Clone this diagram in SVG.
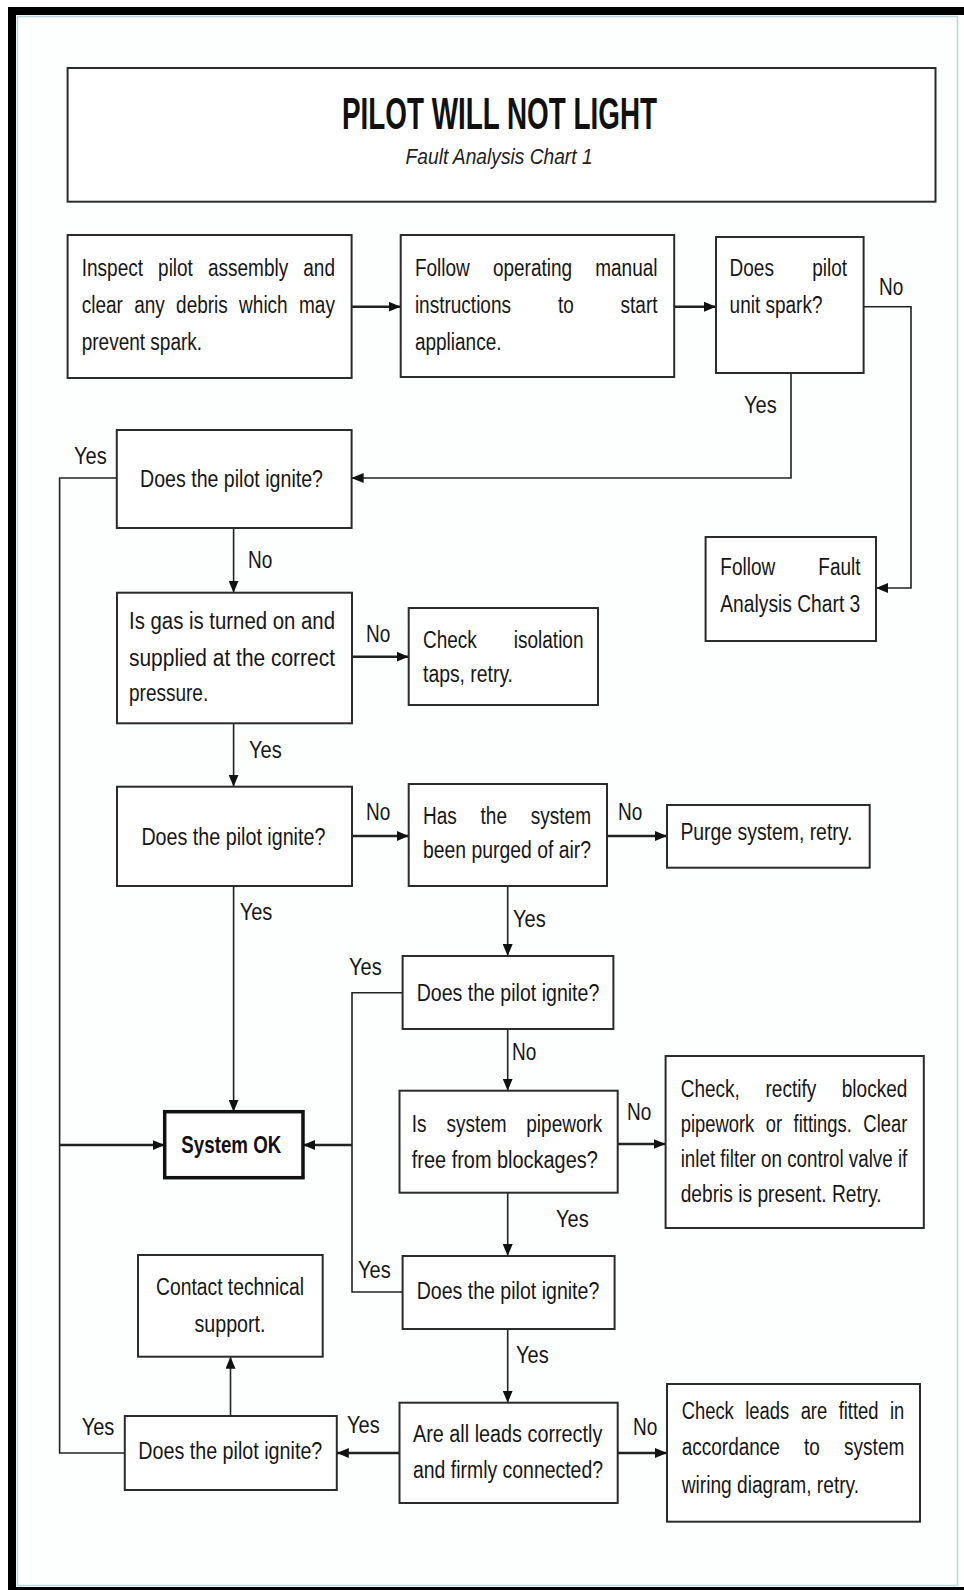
<svg xmlns="http://www.w3.org/2000/svg" width="964" height="1590" viewBox="0 0 964 1590">
<defs>
<style>
.b{fill:#fff;stroke:#2b2b2b;stroke-width:2}
.t{font-family:"Liberation Sans",Arial,sans-serif;font-size:23px;fill:#161616}
.c{fill:none;stroke:#222;stroke-width:1.6}
.ch{fill:none;stroke:#222;stroke-width:2.4}
</style>
<marker id="ah" markerUnits="userSpaceOnUse" markerWidth="12" markerHeight="10" refX="12" refY="5" orient="auto"><path d="M0,0 L12,5 L0,10 z" fill="#111"/></marker>
</defs>
<rect width="964" height="1590" fill="#fff"/>
<rect x="8" y="7" width="956" height="1583" fill="#000"/>
<rect x="16" y="15" width="948" height="1572" fill="#fdfefe"/>
<rect x="17.5" y="16.5" width="940" height="1569" fill="none" stroke="#bcd5df" stroke-width="1.5"/>

<g id="title">
<rect class="b" x="67.6" y="68" width="867.9" height="133.7"/>
<text x="342" y="129" font-family="'Liberation Sans',Arial,sans-serif" font-size="44" font-weight="bold" fill="#111" textLength="315" lengthAdjust="spacingAndGlyphs">PILOT WILL NOT LIGHT</text>
<text x="405.6" y="164" font-family="'Liberation Sans',Arial,sans-serif" font-size="22" font-style="italic" fill="#222" textLength="187" lengthAdjust="spacingAndGlyphs">Fault Analysis Chart 1</text>
</g>

<g id="connectors">
<line class="ch" x1="351.6" y1="306.7" x2="400.7" y2="306.7" marker-end="url(#ah)"/>
<line class="ch" x1="674.2" y1="306.7" x2="716" y2="306.7" marker-end="url(#ah)"/>
<polyline class="c" points="863.6,306.7 911,306.7 911,588 876,588" marker-end="url(#ah)"/>
<polyline class="c" points="791,373 791,478 351.6,478" marker-end="url(#ah)"/>
<polyline class="c" points="116.8,478 59.6,478 59.6,1453 124.8,1453"/>
<line class="ch" x1="59.6" y1="1145" x2="164.7" y2="1145" marker-end="url(#ah)"/>
<line class="c" x1="233.6" y1="528" x2="233.6" y2="592.7" marker-end="url(#ah)"/>
<line class="ch" x1="352" y1="656.7" x2="408.7" y2="656.7" marker-end="url(#ah)"/>
<line class="c" x1="233.6" y1="723.3" x2="233.6" y2="786.7" marker-end="url(#ah)"/>
<line class="ch" x1="352" y1="836" x2="408.7" y2="836" marker-end="url(#ah)"/>
<line class="ch" x1="607" y1="836" x2="667" y2="836" marker-end="url(#ah)"/>
<line class="c" x1="233.6" y1="886" x2="233.6" y2="1111.7" marker-end="url(#ah)"/>
<line class="c" x1="507.7" y1="886" x2="507.7" y2="956" marker-end="url(#ah)"/>
<polyline class="c" points="402.6,992.7 352,992.7 352,1292 402.6,1292"/>
<line class="ch" x1="352" y1="1145" x2="303" y2="1145" marker-end="url(#ah)"/>
<line class="c" x1="507.7" y1="1029" x2="507.7" y2="1090.7" marker-end="url(#ah)"/>
<line class="ch" x1="617.7" y1="1144" x2="665.6" y2="1144" marker-end="url(#ah)"/>
<line class="c" x1="507.7" y1="1192.7" x2="507.7" y2="1256" marker-end="url(#ah)"/>
<line class="c" x1="507.7" y1="1329" x2="507.7" y2="1402.7" marker-end="url(#ah)"/>
<line class="ch" x1="617.7" y1="1453" x2="667" y2="1453" marker-end="url(#ah)"/>
<line class="ch" x1="399.5" y1="1453" x2="336.8" y2="1453" marker-end="url(#ah)"/>
<line class="c" x1="230.5" y1="1416" x2="230.5" y2="1356.7" marker-end="url(#ah)"/>
<g class="t">
<text x="879" y="295" textLength="24.3" lengthAdjust="spacingAndGlyphs">No</text>
<text x="744" y="413" textLength="32.7" lengthAdjust="spacingAndGlyphs">Yes</text>
<text x="74" y="464" textLength="32.7" lengthAdjust="spacingAndGlyphs">Yes</text>
<text x="248" y="568" textLength="24.3" lengthAdjust="spacingAndGlyphs">No</text>
<text x="366" y="641.7" textLength="24.3" lengthAdjust="spacingAndGlyphs">No</text>
<text x="249" y="758" textLength="32.7" lengthAdjust="spacingAndGlyphs">Yes</text>
<text x="366" y="820" textLength="24.3" lengthAdjust="spacingAndGlyphs">No</text>
<text x="618" y="820" textLength="24.3" lengthAdjust="spacingAndGlyphs">No</text>
<text x="239.7" y="920" textLength="32.7" lengthAdjust="spacingAndGlyphs">Yes</text>
<text x="513" y="926.7" textLength="32.7" lengthAdjust="spacingAndGlyphs">Yes</text>
<text x="349" y="975" textLength="32.7" lengthAdjust="spacingAndGlyphs">Yes</text>
<text x="512" y="1060" textLength="24.3" lengthAdjust="spacingAndGlyphs">No</text>
<text x="627" y="1120" textLength="24.3" lengthAdjust="spacingAndGlyphs">No</text>
<text x="556" y="1226.7" textLength="32.7" lengthAdjust="spacingAndGlyphs">Yes</text>
<text x="358" y="1278" textLength="32.7" lengthAdjust="spacingAndGlyphs">Yes</text>
<text x="516" y="1363" textLength="32.7" lengthAdjust="spacingAndGlyphs">Yes</text>
<text x="633" y="1435" textLength="24.3" lengthAdjust="spacingAndGlyphs">No</text>
<text x="347" y="1433" textLength="32.7" lengthAdjust="spacingAndGlyphs">Yes</text>
<text x="81.7" y="1435" textLength="32.7" lengthAdjust="spacingAndGlyphs">Yes</text>
</g>
</g>

<g id="inspect" class="t">
<rect class="b" x="67.6" y="235" width="284" height="143"/>
<text x="81.7" y="276" textLength="61.3" lengthAdjust="spacingAndGlyphs">Inspect</text>
<text x="158.1" y="276" textLength="34.8" lengthAdjust="spacingAndGlyphs">pilot</text>
<text x="208" y="276" textLength="80.2" lengthAdjust="spacingAndGlyphs">assembly</text>
<text x="303.3" y="276" textLength="31.7" lengthAdjust="spacingAndGlyphs">and</text>
<text x="81.7" y="312.7" textLength="41.2" lengthAdjust="spacingAndGlyphs">clear</text>
<text x="134.2" y="312.7" textLength="30.6" lengthAdjust="spacingAndGlyphs">any</text>
<text x="176.1" y="312.7" textLength="51.7" lengthAdjust="spacingAndGlyphs">debris</text>
<text x="239.1" y="312.7" textLength="48.6" lengthAdjust="spacingAndGlyphs">which</text>
<text x="299" y="312.7" textLength="35.9" lengthAdjust="spacingAndGlyphs">may</text>
<text x="81.7" y="349.5" textLength="120.4" lengthAdjust="spacingAndGlyphs">prevent spark.</text>
</g>

<g id="follow" class="t">
<rect class="b" x="400.7" y="235" width="273.5" height="142"/>
<text x="414.9" y="276" textLength="54.9" lengthAdjust="spacingAndGlyphs">Follow</text>
<text x="492.9" y="276" textLength="79.2" lengthAdjust="spacingAndGlyphs">operating</text>
<text x="595.2" y="276" textLength="62.3" lengthAdjust="spacingAndGlyphs">manual</text>
<text x="414.9" y="312.7" textLength="96.1" lengthAdjust="spacingAndGlyphs">instructions</text>
<text x="557.9" y="312.7" textLength="15.8" lengthAdjust="spacingAndGlyphs">to</text>
<text x="620.5" y="312.7" textLength="37" lengthAdjust="spacingAndGlyphs">start</text>
<text x="414.9" y="349.5" textLength="86.6" lengthAdjust="spacingAndGlyphs">appliance.</text>
</g>

<g id="spark" class="t">
<rect class="b" x="716" y="237" width="147.6" height="136"/>
<text x="729.6" y="276" textLength="44.3" lengthAdjust="spacingAndGlyphs">Does</text>
<text x="812.2" y="276" textLength="34.8" lengthAdjust="spacingAndGlyphs">pilot</text>
<text x="729.6" y="312.7" textLength="92.9" lengthAdjust="spacingAndGlyphs">unit spark?</text>
</g>

<g id="ignite1" class="t">
<rect class="b" x="116.8" y="430" width="234.8" height="98"/>
<text x="140" y="487" textLength="183" lengthAdjust="spacingAndGlyphs">Does the pilot ignite?</text>
</g>

<g id="gas" class="t">
<rect class="b" x="117" y="592.7" width="235" height="130.6"/>
<text x="129" y="629.3" textLength="206" lengthAdjust="spacingAndGlyphs">Is gas is turned on and</text>
<text x="129" y="666" textLength="206" lengthAdjust="spacingAndGlyphs">supplied at the correct</text>
<text x="129" y="701" textLength="79.2" lengthAdjust="spacingAndGlyphs">pressure.</text>
</g>

<g id="isolation" class="t">
<rect class="b" x="408.7" y="608" width="189.3" height="97"/>
<text x="423" y="648.3" textLength="53.8" lengthAdjust="spacingAndGlyphs">Check</text>
<text x="513.8" y="648.3" textLength="69.7" lengthAdjust="spacingAndGlyphs">isolation</text>
<text x="423" y="681.7" textLength="90" lengthAdjust="spacingAndGlyphs">taps, retry.</text>
</g>

<g id="chart3" class="t">
<rect class="b" x="705.6" y="537" width="170.4" height="104"/>
<text x="720.3" y="575" textLength="54.9" lengthAdjust="spacingAndGlyphs">Follow</text>
<text x="818.3" y="575" textLength="42.2" lengthAdjust="spacingAndGlyphs">Fault</text>
<text x="720.3" y="611.7" textLength="140" lengthAdjust="spacingAndGlyphs">Analysis Chart 3</text>
</g>

<g id="ignite2" class="t">
<rect class="b" x="117" y="786.7" width="235" height="99.3"/>
<text x="141.4" y="844.5" textLength="184" lengthAdjust="spacingAndGlyphs">Does the pilot ignite?</text>
</g>

<g id="purged" class="t">
<rect class="b" x="408.7" y="784" width="198.3" height="102"/>
<text x="423" y="824" textLength="33.8" lengthAdjust="spacingAndGlyphs">Has</text>
<text x="480.6" y="824" textLength="26.4" lengthAdjust="spacingAndGlyphs">the</text>
<text x="530.8" y="824" textLength="60.2" lengthAdjust="spacingAndGlyphs">system</text>
<text x="423" y="858.3" textLength="168" lengthAdjust="spacingAndGlyphs">been purged of air?</text>
</g>

<g id="purge" class="t">
<rect class="b" x="667" y="805" width="202.7" height="62.7"/>
<text x="680.4" y="840" textLength="172" lengthAdjust="spacingAndGlyphs">Purge system, retry.</text>
</g>

<g id="ignite3" class="t">
<rect class="b" x="402.6" y="956" width="210.8" height="73"/>
<text x="416.7" y="1000.5" textLength="182.6" lengthAdjust="spacingAndGlyphs">Does the pilot ignite?</text>
</g>

<g id="systemok">
<rect x="164.7" y="1111.7" width="138.3" height="66" fill="#fff" stroke="#111" stroke-width="3.5"/>
<text x="181.3" y="1153.3" font-family="'Liberation Sans',Arial,sans-serif" font-size="23" font-weight="bold" fill="#111" textLength="100" lengthAdjust="spacingAndGlyphs">System OK</text>
</g>

<g id="pipework" class="t">
<rect class="b" x="399.5" y="1090.7" width="218.2" height="102"/>
<text x="411.8" y="1131.7" textLength="14.8" lengthAdjust="spacingAndGlyphs">Is</text>
<text x="446.4" y="1131.7" textLength="60.2" lengthAdjust="spacingAndGlyphs">system</text>
<text x="526.3" y="1131.7" textLength="76" lengthAdjust="spacingAndGlyphs">pipework</text>
<text x="411.8" y="1168.3" textLength="186" lengthAdjust="spacingAndGlyphs">free from blockages?</text>
</g>

<g id="rectify" class="t">
<rect class="b" x="665.6" y="1056" width="258.2" height="172"/>
<text x="680.7" y="1096.7" textLength="59.1" lengthAdjust="spacingAndGlyphs">Check,</text>
<text x="765.5" y="1096.7" textLength="50.7" lengthAdjust="spacingAndGlyphs">rectify</text>
<text x="841.8" y="1096.7" textLength="65.5" lengthAdjust="spacingAndGlyphs">blocked</text>
<text x="680.7" y="1131.7" textLength="226.6" lengthAdjust="spacingAndGlyphs" word-spacing="8">pipework or fittings. Clear</text>
<text x="680.7" y="1166.7" textLength="226.6" lengthAdjust="spacingAndGlyphs">inlet filter on control valve if</text>
<text x="680.7" y="1201.7" textLength="201" lengthAdjust="spacingAndGlyphs">debris is present. Retry.</text>
</g>

<g id="ignite4" class="t">
<rect class="b" x="402.6" y="1256" width="212" height="73"/>
<text x="416.7" y="1299" textLength="182.6" lengthAdjust="spacingAndGlyphs">Does the pilot ignite?</text>
</g>

<g id="support" class="t">
<rect class="b" x="138" y="1255" width="184.7" height="101.7"/>
<text x="156" y="1295" textLength="148" lengthAdjust="spacingAndGlyphs">Contact technical</text>
<text x="194.5" y="1331.7" textLength="71" lengthAdjust="spacingAndGlyphs">support.</text>
</g>

<g id="leads" class="t">
<rect class="b" x="399.5" y="1402.7" width="218.2" height="100.3"/>
<text x="413" y="1441.7" textLength="189.3" lengthAdjust="spacingAndGlyphs">Are all leads correctly</text>
<text x="413" y="1478.3" textLength="190" lengthAdjust="spacingAndGlyphs">and firmly connected?</text>
</g>

<g id="wiring" class="t">
<rect class="b" x="667" y="1384" width="253" height="137.7"/>
<text x="681.7" y="1419.3" textLength="222.6" lengthAdjust="spacingAndGlyphs" word-spacing="8">Check leads are fitted in</text>
<text x="681.7" y="1455" textLength="98.2" lengthAdjust="spacingAndGlyphs">accordance</text>
<text x="804.1" y="1455" textLength="15.8" lengthAdjust="spacingAndGlyphs">to</text>
<text x="844.1" y="1455" textLength="60.2" lengthAdjust="spacingAndGlyphs">system</text>
<text x="681.7" y="1493.3" textLength="177.4" lengthAdjust="spacingAndGlyphs">wiring diagram, retry.</text>
</g>

<g id="ignite5" class="t">
<rect class="b" x="124.8" y="1416" width="212" height="74"/>
<text x="138.3" y="1459" textLength="184" lengthAdjust="spacingAndGlyphs">Does the pilot ignite?</text>
</g>
</svg>
